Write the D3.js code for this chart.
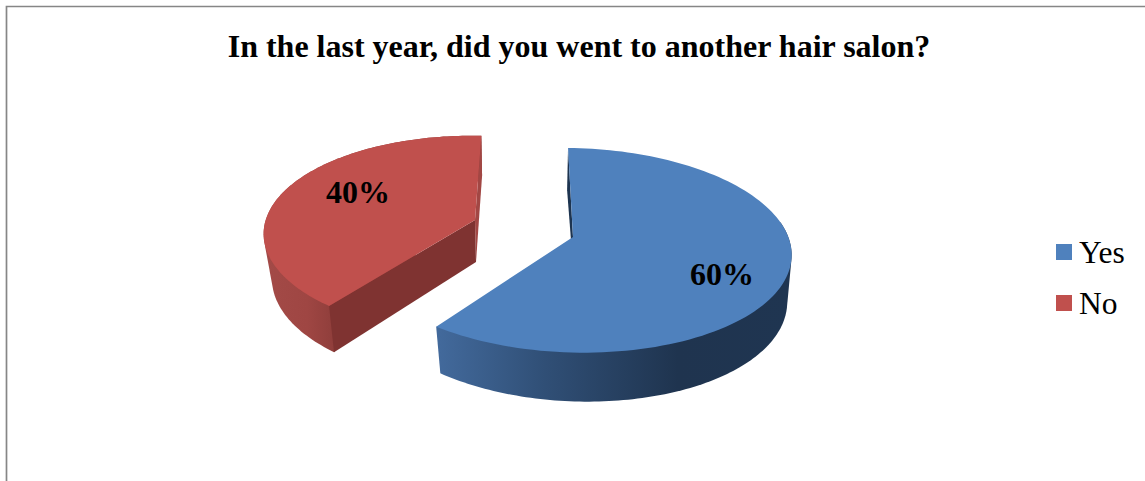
<!DOCTYPE html>
<html>
<head>
<meta charset="utf-8">
<title>Hair salon survey</title>
<script src="https://cdn.jsdelivr.net/npm/d3@7/dist/d3.min.js"></script>
<style>
  html, body { margin: 0; padding: 0; background: #fff; }
  svg { display: block; }
  text { font-family: "Liberation Serif", serif; fill: #000; }
</style>
</head>
<body>
<svg id="chart" width="1145" height="481"></svg>
<script>
const titleText = "In the last year, did you went to another hair salon?";
const categories = ["Yes", "No"];
const shares = [60, 40];

const topColors = ["#4f81bd", "#c0504d"];
const cutColors = ["#1d3450", "#7f3331"];
const endWallColor = "#a24744";

// Each slice has a projected top rim and a projected bottom rim.
const sliceViews = [
  {
    top: { cx: 573, cy: 237, rx: 216, ry: 100.6, shear: 5.6, tilt: 2, p: 0.13, turn: 0 },
    bottom: { cx: 574, cy: 279, rx: 209, ry: 103, shear: 8, tilt: 2, p: 0.16, turn: 0 },
    wallFrom: 1.4,
    label: [722, 274]
  },
  {
    top: { cx: 475, cy: 220, rx: 209, ry: 97, shear: 0, tilt: 1, p: 0.15, turn: 0.035 },
    bottom: { cx: 476, cy: 262, rx: 201.5, ry: 100, shear: 0, tilt: 0, p: 0.16, turn: 0.035 },
    wallFrom: null,
    label: [358, 192]
  }
];

const svg = d3.select("#chart");

const defs = svg.append("defs");
const blueSide = defs.append("linearGradient")
  .attr("id", "side-0").attr("gradientUnits", "userSpaceOnUse")
  .attr("x1", 440).attr("x2", 790).attr("y1", 0).attr("y2", 0);
[[0, "#42699b"], [0.3, "#304f76"], [0.68, "#1f344f"], [1, "#1f3551"]].forEach(([o, c]) =>
  blueSide.append("stop").attr("offset", o).attr("stop-color", c));
const redSide = defs.append("linearGradient")
  .attr("id", "side-1").attr("gradientUnits", "userSpaceOnUse")
  .attr("x1", 265).attr("x2", 335).attr("y1", 0).attr("y2", 0);
[[0, "#a34a47"], [0.6, "#9f4643"], [1, "#8f3e3b"]].forEach(([o, c]) =>
  redSide.append("stop").attr("offset", o).attr("stop-color", c));

// Perspective projection of a pie angle onto a slice's rim.
function project(view, angle, radius = 1) {
  const a = angle + view.turn;
  const u = radius * Math.sin(a);
  const v = -radius * Math.cos(a);
  const s = 1 / (1 - view.p * v);
  return [
    view.cx + view.rx * u * s + view.shear * v * s,
    view.cy + view.ry * v * s + view.tilt * u * s
  ];
}

function rim(view, a0, a1) {
  return d3.range(0, 121).map(i => project(view, a0 + (a1 - a0) * i / 120));
}

const pathOf = d3.line();
const closed = pts => pathOf(pts) + "Z";

const pie = d3.pie().sort(null)(shares);

// Frame around the plot area
svg.append("path")
  .attr("d", "M6.5,481V6.5H1145")
  .attr("fill", "none")
  .attr("stroke", "#868686")
  .attr("stroke-width", 1.7);

// Title
svg.append("text")
  .attr("x", 579).attr("y", 57)
  .attr("text-anchor", "middle")
  .attr("font-size", 32)
  .attr("font-weight", "bold")
  .text(titleText);

// Slices: outer wall, then the radial walls, then the top surface
const slices = svg.selectAll("g.slice").data(pie).join("g").attr("class", "slice");

slices.each(function (d, i) {
  const g = d3.select(this);
  const view = sliceViews[i];
  const a0 = d.startAngle, a1 = d.endAngle;
  const radialWall = a => closed([
    project(view.top, a, 0), project(view.top, a),
    project(view.bottom, a), project(view.bottom, a, 0)
  ]);

  // Outer curved wall: the convex outline swept between the two rims
  const from = view.wallFrom === null ? a0 : view.wallFrom;
  const wallPts = d3.polygonHull(rim(view.top, from, a1).concat(rim(view.bottom, from, a1)));
  g.append("path")
    .attr("d", closed(wallPts))
    .attr("fill", `url(#side-${i})`);

  // Radial wall at the end of the slice, seen edge-on
  if (i === 1) {
    g.append("path")
      .attr("d", radialWall(a1))
      .attr("fill", endWallColor);
  }

  // Radial wall at the start of the slice
  g.append("path")
    .attr("d", radialWall(a0))
    .attr("fill", cutColors[i]);

  // Top surface
  g.append("path")
    .attr("d", closed([project(view.top, a0, 0)].concat(rim(view.top, a0, a1))))
    .attr("fill", topColors[i]);
});

// Percentage labels
slices.append("text")
  .attr("x", (d, i) => sliceViews[i].label[0])
  .attr("y", (d, i) => sliceViews[i].label[1])
  .attr("dy", "0.35em")
  .attr("text-anchor", "middle")
  .attr("font-size", 32)
  .attr("font-weight", "bold")
  .text(d => d.value + "%");

// Legend
const legendY = d3.scalePoint().domain(categories).range([252, 303]);
const legend = svg.selectAll("g.legend").data(categories).join("g")
  .attr("class", "legend")
  .attr("transform", d => `translate(0,${legendY(d)})`);
legend.append("rect")
  .attr("x", 1056).attr("y", -8).attr("width", 16).attr("height", 16)
  .attr("fill", (d, i) => topColors[i]);
legend.append("text")
  .attr("x", 1079).attr("y", 11)
  .attr("font-size", 31.5)
  .text(d => d);
</script>
</body>
</html>
